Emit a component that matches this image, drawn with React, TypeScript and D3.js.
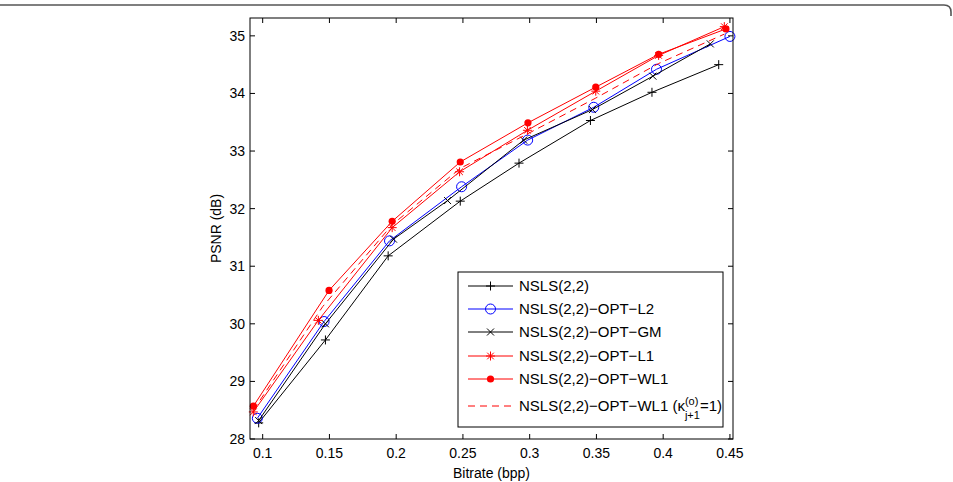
import React, { useRef, useEffect } from "react";
import * as d3 from "d3";

// bitrate (bpp) and PSNR (dB) for each lifting scheme
const nslsRate = [0.097, 0.147, 0.194, 0.248, 0.292, 0.3455, 0.3916, 0.4416];
const nslsPsnr = [28.28, 29.72, 31.18, 32.13, 32.79, 33.53, 34.02, 34.5];

const l2Rate = [0.096, 0.146, 0.195, 0.249, 0.2985, 0.348, 0.395, 0.45];
const l2Psnr = [28.36, 30.04, 31.44, 32.38, 33.19, 33.76, 34.42, 34.99];

const gmRate = [0.097, 0.147, 0.198, 0.2385, 0.2955, 0.347, 0.3923, 0.4353];
const gmPsnr = [28.32, 30.0, 31.47, 32.14, 33.19, 33.72, 34.3, 34.86];

const l1Rate = [0.093, 0.1417, 0.197, 0.2475, 0.2983, 0.3495, 0.3966, 0.4458];
const l1Psnr = [28.47, 30.06, 31.67, 32.64, 33.36, 34.04, 34.66, 35.16];

const wl1Rate = [0.093, 0.1497, 0.197, 0.248, 0.2987, 0.3495, 0.3966, 0.447];
const wl1Psnr = [28.57, 30.58, 31.78, 32.81, 33.49, 34.11, 34.68, 35.12];

const wl1kRate = [0.093, 0.145, 0.197, 0.248, 0.2985, 0.3495, 0.3966, 0.4458];
const wl1kPsnr = [28.5, 30.3, 31.72, 32.7, 33.3, 33.92, 34.52, 35.03];

const xTicks = [0.1, 0.15, 0.2, 0.25, 0.3, 0.35, 0.4, 0.45];
const yTicks = [28, 29, 30, 31, 32, 33, 34, 35];

const legendNames = [
  "NSLS(2,2)",
  "NSLS(2,2)\u2212OPT\u2212L2",
  "NSLS(2,2)\u2212OPT\u2212GM",
  "NSLS(2,2)\u2212OPT\u2212L1",
  "NSLS(2,2)\u2212OPT\u2212WL1",
  "NSLS(2,2)\u2212OPT\u2212WL1 (",
];

const FONT = "'Liberation Sans', Arial, Helvetica, sans-serif";

// marker path centred at 0,0
const markerPath = (type) => {
  if (type === "plus") return "M-4.5,0H4.5M0,-4.5V4.5";
  if (type === "x") return "M-3.5,-3.5L3.5,3.5M-3.5,3.5L3.5,-3.5";
  if (type === "star")
    return "M-4.5,0H4.5M0,-4.5V4.5M-3.3,-3.3L3.3,3.3M-3.3,3.3L3.3,-3.3";
  return null;
};

const PsnrChart = () => {
  const chartRef = useRef();

  useEffect(() => {
    document.body.style.margin = "0";
    const width = 953;
    const height = 482;
    const plot = { left: 250, right: 733, top: 18, bottom: 439 };

    const series = [
      { rate: nslsRate, psnr: nslsPsnr, color: "#000", marker: "plus", dash: null },
      { rate: l2Rate, psnr: l2Psnr, color: "#0000ff", marker: "circle", dash: null },
      { rate: gmRate, psnr: gmPsnr, color: "#000", marker: "x", dash: null },
      { rate: l1Rate, psnr: l1Psnr, color: "#ff0000", marker: "star", dash: null },
      { rate: wl1Rate, psnr: wl1Psnr, color: "#ff0000", marker: "dot", dash: null },
      { rate: wl1kRate, psnr: wl1kPsnr, color: "#ff0000", marker: null, dash: "7,5" },
    ];

    const root = d3.select(chartRef.current);
    root.selectAll("*").remove();

    const svg = root
      .append("svg")
      .attr("width", width)
      .attr("height", height)
      .style("display", "block")
      .style("font-family", FONT);

    svg.append("rect").attr("width", width).attr("height", height).attr("fill", "#fff");

    // top edge of the figure frame, rounded at the right corner
    svg
      .append("path")
      .attr("d", "M0,5H944Q951,5 951,12V16")
      .attr("fill", "none")
      .attr("stroke", "#555")
      .attr("stroke-width", 1.6);

    const xScale = d3.scaleLinear().domain([0.0905, 0.4523]).range([plot.left, plot.right]);
    const yScale = d3.scaleLinear().domain([28, 35.31]).range([plot.bottom, plot.top]);

    const clipId = "plot-clip";
    svg
      .append("clipPath")
      .attr("id", clipId)
      .append("rect")
      .attr("x", plot.left - 8)
      .attr("y", plot.top)
      .attr("width", plot.right - plot.left + 16)
      .attr("height", plot.bottom - plot.top);

    const line = d3
      .line()
      .x((d) => xScale(d[0]))
      .y((d) => yScale(d[1]));

    const lines = svg.append("g").attr("clip-path", `url(#${clipId})`);

    const drawMarker = (g, type, color, x, y) => {
      if (type === "circle") {
        g.append("circle").attr("cx", x).attr("cy", y).attr("r", 5)
          .attr("fill", "none").attr("stroke", color).attr("stroke-width", 1);
      } else if (type === "dot") {
        g.append("circle").attr("cx", x).attr("cy", y).attr("r", 3.6).attr("fill", color);
      } else if (type) {
        g.append("path").attr("d", markerPath(type))
          .attr("transform", `translate(${x},${y})`)
          .attr("fill", "none").attr("stroke", color).attr("stroke-width", 1);
      }
    };

    series.forEach((s) => {
      const pts = s.rate.map((r, i) => [r, s.psnr[i]]);
      lines
        .append("path")
        .datum(pts)
        .attr("d", line)
        .attr("fill", "none")
        .attr("stroke", s.color)
        .attr("stroke-width", 1)
        .attr("stroke-dasharray", s.dash);
      pts.forEach((p) => drawMarker(lines, s.marker, s.color, xScale(p[0]), yScale(p[1])));
    });

    // axes box with inward ticks on all four sides
    const axes = svg.append("g");
    axes
      .append("rect")
      .attr("x", plot.left)
      .attr("y", plot.top)
      .attr("width", plot.right - plot.left)
      .attr("height", plot.bottom - plot.top)
      .attr("fill", "none")
      .attr("stroke", "#000")
      .attr("stroke-width", 1);

    const tickLen = 5;
    xTicks.forEach((t) => {
      const x = xScale(t);
      axes.append("line").attr("x1", x).attr("x2", x)
        .attr("y1", plot.bottom).attr("y2", plot.bottom - tickLen).attr("stroke", "#000");
      axes.append("line").attr("x1", x).attr("x2", x)
        .attr("y1", plot.top).attr("y2", plot.top + tickLen).attr("stroke", "#000");
      axes.append("text").attr("x", x).attr("y", plot.bottom + 19)
        .attr("text-anchor", "middle").attr("font-size", 14).text(String(t));
    });
    yTicks.forEach((t) => {
      const y = yScale(t);
      axes.append("line").attr("x1", plot.left).attr("x2", plot.left + tickLen)
        .attr("y1", y).attr("y2", y).attr("stroke", "#000");
      axes.append("line").attr("x1", plot.right).attr("x2", plot.right - tickLen)
        .attr("y1", y).attr("y2", y).attr("stroke", "#000");
      axes.append("text").attr("x", plot.left - 5).attr("y", y + 5)
        .attr("text-anchor", "end").attr("font-size", 14).text(String(t));
    });

    svg.append("text")
      .attr("x", (plot.left + plot.right) / 2)
      .attr("y", 478)
      .attr("text-anchor", "middle")
      .attr("font-size", 14)
      .text("Bitrate (bpp)");

    svg.append("text")
      .attr("transform", `translate(221,${(plot.top + plot.bottom) / 2}) rotate(-90)`)
      .attr("text-anchor", "middle")
      .attr("font-size", 14)
      .text("PSNR (dB)");

    // legend
    const lg = { x: 458, y: 272, w: 265, h: 155 };
    const legend = svg.append("g");
    legend.append("rect")
      .attr("x", lg.x).attr("y", lg.y).attr("width", lg.w).attr("height", lg.h)
      .attr("fill", "#fff").attr("stroke", "#000").attr("stroke-width", 1);

    const rowY = [286, 309, 332, 356, 379, 406];
    series.forEach((s, i) => {
      const y = rowY[i];
      legend.append("line")
        .attr("x1", 468).attr("x2", 513).attr("y1", y).attr("y2", y)
        .attr("stroke", s.color).attr("stroke-width", 1)
        .attr("stroke-dasharray", s.dash);
      drawMarker(legend, s.marker, s.color, 490.5, y);
      const txt = legend.append("text")
        .attr("x", 519).attr("y", y + 5)
        .attr("font-size", 15)
        .text(legendNames[i]);

      if (i === legendNames.length - 1) {
        // kappa with stacked super/subscript
        let x = 519 + txt.node().getComputedTextLength();
        const k = legend.append("text").attr("x", x).attr("y", y + 5)
          .attr("font-size", 15).text("\u03ba");
        x += k.node().getComputedTextLength();
        const sup = legend.append("text").attr("x", x).attr("y", y - 1)
          .attr("font-size", 11).text("(o)");
        const sub = legend.append("text").attr("x", x).attr("y", y + 13)
          .attr("font-size", 11).text("j+1");
        x += Math.max(sup.node().getComputedTextLength(), sub.node().getComputedTextLength());
        legend.append("text").attr("x", x).attr("y", y + 5)
          .attr("font-size", 15).text("=1)");
      }
    });
  }, []);

  return <div ref={chartRef}></div>;
};

export default function App() {
  return <PsnrChart />;
}
